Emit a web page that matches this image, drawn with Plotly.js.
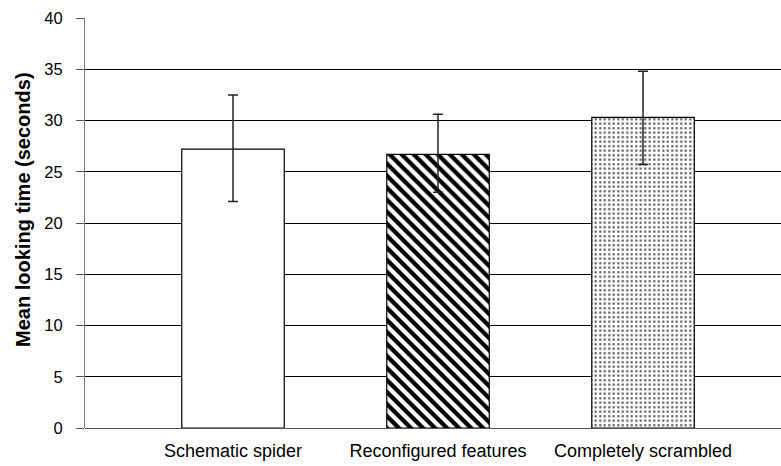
<!DOCTYPE html>
<html>
<head>
<meta charset="utf-8">
<script src="https://cdn.plot.ly/plotly-3.0.1.min.js"></script>
<style>html,body{margin:0;padding:0;background:#fff;}#chart{width:781px;height:466px;}</style>
</head>
<body>
<div id="chart"></div>
<script>
var categories = ["Schematic spider", "Reconfigured features", "Completely scrambled"];
var means = [27.2, 26.7, 30.3];
var upper = [32.5, 30.6, 34.8];
var lower = [22.1, 23.0, 25.7];
var yTicks = [0, 5, 10, 15, 20, 25, 30, 35, 40];

var patternShapes = ["", "\\", "."];
var patternFg = ["#000000", "#000000", "#666666"];
var patternSize = [8, 8.5, 4.5];
var patternSolidity = [0.5, 0.5, 0.25];

var FONT = "Liberation Sans, Arial, sans-serif";

var traces = categories.map(function (c, i) {
  var t = {
    type: "bar",
    x: [i],
    y: [means[i]],
    width: 0.5,
    marker: {
      color: "#ffffff",
      line: { color: "#000000", width: 1.2 }
    },
    error_y: {
      type: "data",
      symmetric: false,
      array: [upper[i] - means[i]],
      arrayminus: [means[i] - lower[i]],
      color: "#222222",
      thickness: 1.5,
      width: 5
    },
    hoverinfo: "skip",
    name: c
  };
  if (patternShapes[i]) {
    t.marker.pattern = {
      shape: patternShapes[i],
      fillmode: "replace",
      fgcolor: patternFg[i],
      bgcolor: "#ffffff",
      size: patternSize[i],
      solidity: patternSolidity[i]
    };
  }
  return t;
});

var layout = {
  width: 781,
  height: 466,
  margin: { l: 85, r: 0, t: 18, b: 38 },
  paper_bgcolor: "#ffffff",
  plot_bgcolor: "#ffffff",
  showlegend: false,
  barmode: "overlay",
  font: { family: FONT, color: "#000000" },
  xaxis: {
    range: [-0.722, 2.673],
    tickmode: "array",
    tickvals: [0, 1, 2],
    ticktext: categories,
    ticks: "",
    showgrid: false,
    zeroline: false,
    showline: false,
    tickfont: { size: 18, family: FONT },
    ticklabelstandoff: 10,
    fixedrange: true
  },
  yaxis: {
    range: [0, 40],
    tickmode: "array",
    tickvals: yTicks,
    ticks: "outside",
    ticklen: 8,
    tickcolor: "#555555",
    tickwidth: 1,
    showgrid: true,
    gridcolor: "#000000",
    gridwidth: 1,
    zeroline: true,
    zerolinecolor: "#555555",
    zerolinewidth: 1,
    showline: true,
    linecolor: "#777777",
    linewidth: 1,
    tickfont: { size: 16.5, family: FONT },
    ticklabelstandoff: 10,
    fixedrange: true
  },
  annotations: [{
    text: "<b>Mean looking time (seconds)</b>",
    xref: "paper", yref: "paper",
    x: -0.089, y: 0.532,
    xanchor: "center", yanchor: "middle",
    textangle: -90,
    showarrow: false,
    font: { size: 20, family: FONT, color: "#000000" }
  }]
};

Plotly.newPlot("chart", traces, layout, { displayModeBar: false, staticPlot: true });
</script>
</body>
</html>
